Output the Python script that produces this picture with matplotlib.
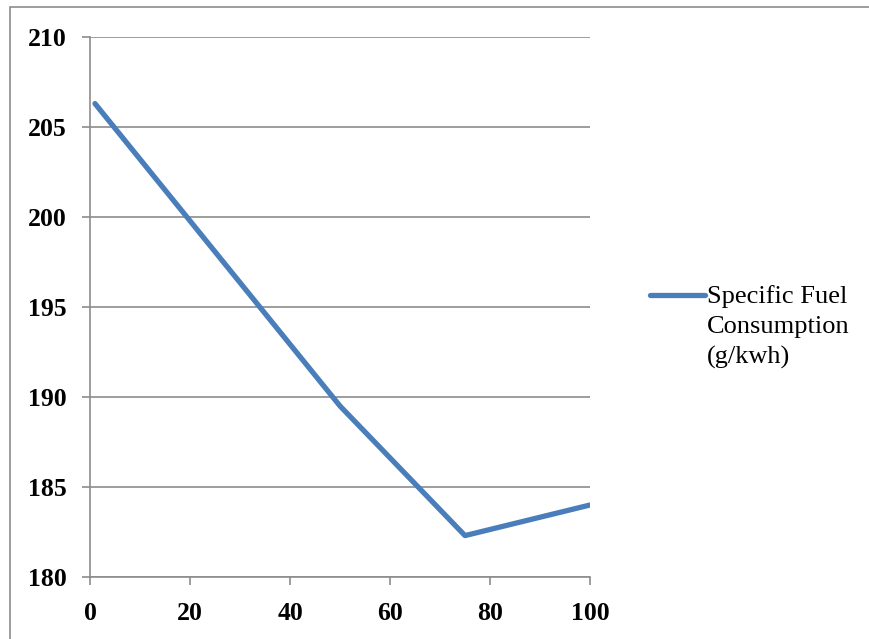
import matplotlib.pyplot as plt
from matplotlib.patches import Rectangle
from matplotlib.lines import Line2D

# load (%) vs specific fuel consumption
load = [1, 50, 75, 100]
sfc = [206.3, 189.5, 182.3, 184.0]
series_label = "Specific Fuel\nConsumption\n(g/kwh)"
y_ticks = [180, 185, 190, 195, 200, 205, 210]
x_ticks = [0, 20, 40, 60, 80, 100]

plt.rcParams['font.family'] = ['Liberation Serif', 'DejaVu Serif']

W, H = 869, 639
fig = plt.figure(figsize=(W / 100, H / 100), dpi=100)
ax = fig.add_axes([90 / W, 1 - 577 / H, 500 / W, 540 / H])

# outer chart frame (runs off the right and bottom edge)
fig.patches.append(Rectangle((10 / W, -0.1), 1.2, 1.1 - 7 / H,
                             transform=fig.transFigure, fill=False,
                             edgecolor='#8c8c8c', linewidth=1.2))

blue = '#4a7ebb'
ax.plot(load, sfc, color=blue, linewidth=3.8,
        solid_capstyle='round', solid_joinstyle='round')

ax.set_xlim(0, 100)
ax.set_ylim(180, 210)
ax.set_xticks(x_ticks)
ax.set_yticks(y_ticks)
ax.yaxis.grid(True, color='#8c8c8c', linewidth=1.2)
ax.set_axisbelow(True)

for side in ['top', 'right']:
    ax.spines[side].set_visible(False)
for side in ['left', 'bottom']:
    ax.spines[side].set_color('#8c8c8c')
    ax.spines[side].set_linewidth(1.2)

ax.tick_params(axis='both', direction='out', length=6, width=1.2,
               color='#8c8c8c', labelsize=18.5)
ax.tick_params(axis='y', pad=11)
ax.tick_params(axis='x', pad=12)
for lbl in ax.get_xticklabels() + ax.get_yticklabels():
    lbl.set_fontweight('bold')

# legend drawn by hand: handle sits on the first text line
fig.lines.append(Line2D([650 / W, 705 / W], [1 - 295 / H, 1 - 295 / H],
                        transform=fig.transFigure, color=blue,
                        linewidth=3.8, solid_capstyle='round'))
fig.text(707 / W, 1 - 285 / H, series_label, fontsize=19,
         ha='left', va='top', linespacing=1.45)

fig.savefig("out.png", dpi=100)
